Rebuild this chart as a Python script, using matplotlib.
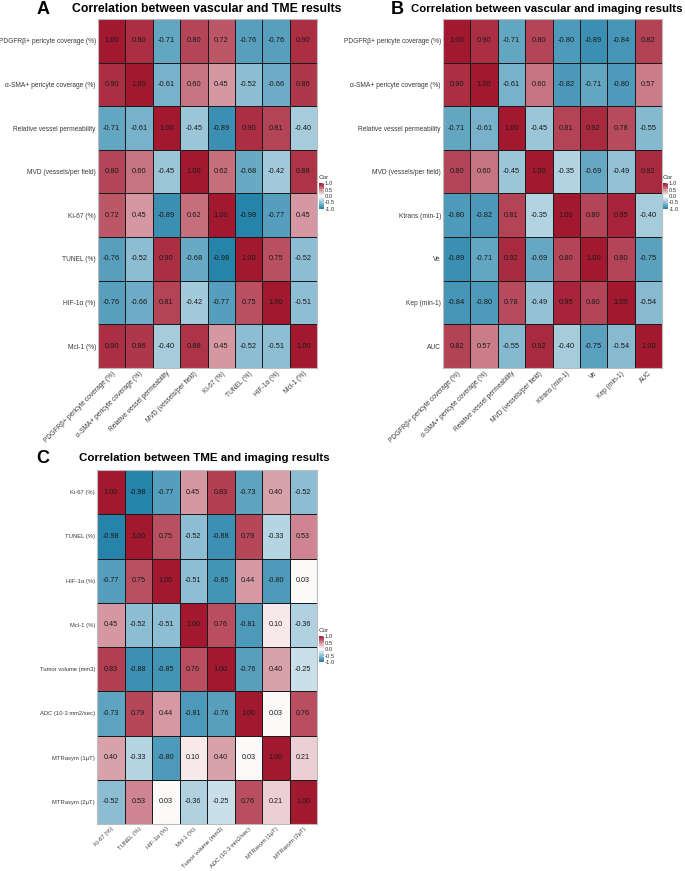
import numpy as np
import matplotlib
matplotlib.use("Agg")
import matplotlib.pyplot as plt
from matplotlib.colors import LinearSegmentedColormap, Normalize

plt.rcParams['font.family'] = ['Liberation Sans', 'DejaVu Sans']

labels_a = ["PDGFRβ+ pericyte coverage (%)", "α-SMA+ pericyte coverage (%)",
            "Relative vessel permeability", "MVD (vessels/per field)",
            "Ki-67 (%)", "TUNEL (%)", "HIF-1α (%)", "Mcl-1 (%)"]
values_a = [
    [1.00, 0.90, -0.71, 0.80, 0.72, -0.76, -0.76, 0.90],
    [0.90, 1.00, -0.61, 0.60, 0.45, -0.52, -0.66, 0.86],
    [-0.71, -0.61, 1.00, -0.45, -0.89, 0.90, 0.81, -0.40],
    [0.80, 0.60, -0.45, 1.00, 0.62, -0.68, -0.42, 0.88],
    [0.72, 0.45, -0.89, 0.62, 1.00, -0.98, -0.77, 0.45],
    [-0.76, -0.52, 0.90, -0.68, -0.98, 1.00, 0.75, -0.52],
    [-0.76, -0.66, 0.81, -0.42, -0.77, 0.75, 1.00, -0.51],
    [0.90, 0.86, -0.40, 0.88, 0.45, -0.52, -0.51, 1.00],
]

labels_b = ["PDGFRβ+ pericyte coverage (%)", "α-SMA+ pericyte coverage (%)",
            "Relative vessel permeability", "MVD (vessels/per field)",
            "Ktrans (min-1)", "Ve", "Kep (min-1)", "AUC"]
values_b = [
    [1.00, 0.90, -0.71, 0.80, -0.80, -0.89, -0.84, 0.82],
    [0.90, 1.00, -0.61, 0.60, -0.82, -0.71, -0.80, 0.57],
    [-0.71, -0.61, 1.00, -0.45, 0.81, 0.92, 0.78, -0.55],
    [0.80, 0.60, -0.45, 1.00, -0.35, -0.69, -0.49, 0.92],
    [-0.80, -0.82, 0.81, -0.35, 1.00, 0.80, 0.95, -0.40],
    [-0.89, -0.71, 0.92, -0.69, 0.80, 1.00, 0.80, -0.75],
    [-0.84, -0.80, 0.78, -0.49, 0.95, 0.80, 1.00, -0.54],
    [0.82, 0.57, -0.55, 0.92, -0.40, -0.75, -0.54, 1.00],
]

labels_c = ["Ki-67 (%)", "TUNEL (%)", "HIF-1α (%)", "Mcl-1 (%)",
            "Tumor volume (mm3)", "ADC (10-3 mm2/sec)", "MTRasym (1μT)", "MTRasym (2μT)"]
values_c = [
    [1.00, -0.98, -0.77, 0.45, 0.83, -0.73, 0.40, -0.52],
    [-0.98, 1.00, 0.75, -0.52, -0.88, 0.79, -0.33, 0.53],
    [-0.77, 0.75, 1.00, -0.51, -0.85, 0.44, -0.80, 0.03],
    [0.45, -0.52, -0.51, 1.00, 0.76, -0.81, 0.10, -0.36],
    [0.83, -0.88, -0.85, 0.76, 1.00, -0.76, 0.40, -0.25],
    [-0.73, 0.79, 0.44, -0.81, -0.76, 1.00, 0.03, 0.76],
    [0.40, -0.33, -0.80, 0.10, 0.40, 0.03, 1.00, 0.21],
    [-0.52, 0.53, 0.03, -0.36, -0.25, 0.76, 0.21, 1.00],
]

titles = ["Correlation between vascular and TME results",
          "Correlation between vascular and imaging results",
          "Correlation between TME and imaging results"]
letters = ["A", "B", "C"]
legend_ticks = [1.0, 0.5, 0.0, -0.5, -1.0]

W, H = 685, 871
fig = plt.figure(figsize=(W / 100, H / 100), dpi=100)
cmap = LinearSegmentedColormap.from_list("cor", ["#2381A9", "#FFFFFF", "#A2182F"])
norm = Normalize(-1, 1)


def fx(px):
    return px / W


def fy(py):
    return 1 - py / H


def heat(rect, labels, vals, leg_rect, lab_fs=4.8, cell_fs=5.4):
    vals = np.array(vals)
    ax = fig.add_axes(rect)
    n = len(labels)
    ax.pcolormesh(np.arange(n + 1), np.arange(n + 1), vals, cmap=cmap, norm=norm,
                  edgecolors="#1a1a1a", linewidth=0.7)
    ax.set_xlim(0, n)
    ax.set_ylim(n, 0)
    for i in range(n):
        for j in range(n):
            ax.text(j + 0.5, i + 0.5, f"{vals[i, j]:.2f}", ha="center", va="center",
                    fontsize=cell_fs, color="#1a1a1a")
    ax.set_xticks(np.arange(n) + 0.5)
    ax.set_yticks(np.arange(n) + 0.5)
    ax.set_xticklabels(labels, rotation=45, ha="right", va="top",
                       rotation_mode="anchor", fontsize=lab_fs, color="#3a3a3a")
    ax.set_yticklabels(labels, fontsize=lab_fs, color="#3a3a3a")
    ax.tick_params(length=0, pad=1.5)
    for s in ax.spines.values():
        s.set_color("#bbbbbb")
        s.set_linewidth(0.8)
    # legend
    cax = fig.add_axes(leg_rect)
    grad = np.linspace(1, -1, 100).reshape(-1, 1)
    cax.imshow(grad, cmap=cmap, norm=norm, aspect="auto", extent=(0, 1, -1, 1))
    cax.set_xticks([])
    cax.yaxis.tick_right()
    cax.set_yticks(legend_ticks)
    cax.set_yticklabels([f"{t:.1f}" for t in legend_ticks], fontsize=4.2, color="#333333")
    cax.tick_params(axis="y", length=1.2, width=0.4, pad=0.5, colors="#ffffff",
                    labelcolor="#333333", direction="in")
    for s in cax.spines.values():
        s.set_visible(False)
    cax.text(0, 1.1, "Cor", transform=cax.transAxes, fontsize=4.6, color="#333333",
             ha="left", va="bottom")
    return ax


# Panel A
heat([fx(98), fy(368), fx(317 - 98), (368 - 19) / H], labels_a, values_a,
     [fx(319), fy(209), fx(5), 26 / H])
# Panel B
heat([fx(443), fy(368), fx(662 - 443), (368 - 19) / H], labels_b, values_b,
     [fx(663), fy(209), fx(5), 26 / H])
# Panel C
heat([fx(97), fy(824), fx(317 - 97), (824 - 470) / H], labels_c, values_c,
     [fx(319), fy(662), fx(5), 26 / H], lab_fs=4.2, cell_fs=5.2)

# titles fitted to their span in the reference
renderer = fig.canvas.get_renderer()
title_spans = [(72, 344, 9), (411, 683, 9), (79, 330, 458)]
for t, (x0, x1, y) in zip(titles, title_spans):
    txt = fig.text(fx(x0), fy(y), t, ha="left", va="center", fontsize=8.9, fontweight="bold")
    w = txt.get_window_extent(renderer).width
    txt.set_fontsize(8.9 * (x1 - x0) / w)

fig.text(fx(43), fy(9), letters[0], ha="center", va="center", fontsize=13, fontweight="bold")
fig.text(fx(397), fy(9), letters[1], ha="center", va="center", fontsize=13, fontweight="bold")
fig.text(fx(43), fy(458), letters[2], ha="center", va="center", fontsize=13, fontweight="bold")

fig.savefig("out.png", dpi=100)
